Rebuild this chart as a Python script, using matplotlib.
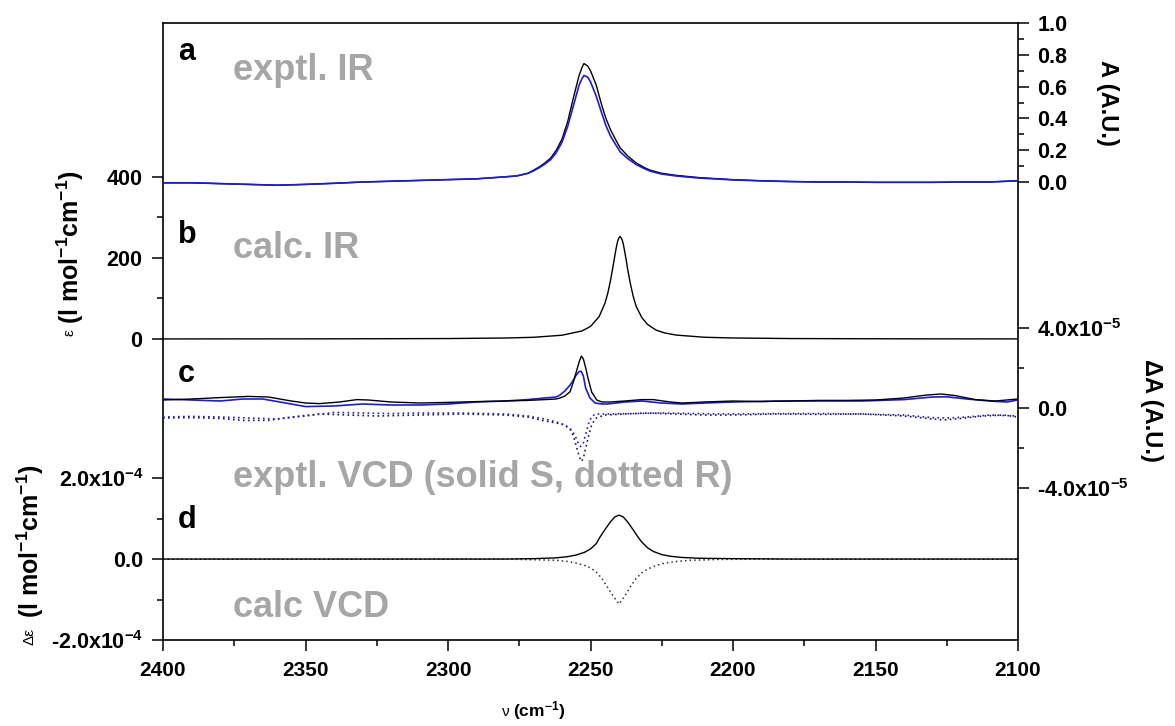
import matplotlib
matplotlib.use('Agg')
import matplotlib.pyplot as plt
import numpy as np

plt.rcParams['font.family'] = ['Liberation Sans', 'DejaVu Sans']
plt.rcParams['mathtext.fontset'] = 'custom'
plt.rcParams['mathtext.rm'] = 'Liberation Sans'
plt.rcParams['mathtext.bf'] = 'Liberation Sans:bold'
plt.rcParams['mathtext.default'] = 'bf'

# ---- data ----
# a: experimental IR, absorbance (A.U.), right upper axis
ir_exp_nu = [2400, 2390, 2380, 2370, 2360, 2350, 2340, 2330, 2320, 2310, 2300, 2290,
             2282, 2276, 2272, 2270, 2268, 2266, 2264, 2262, 2260, 2258, 2256, 2254,
             2253, 2252.3, 2251, 2250, 2248, 2246, 2244.6, 2243, 2241, 2239.6, 2237,
             2234, 2231, 2229, 2225, 2220, 2212, 2200, 2190, 2180, 2170, 2160, 2150,
             2140, 2130, 2120, 2110, 2100]
ir_exp_black = [-0.005, -0.005, -0.01, -0.015, -0.02, -0.015, -0.008, 0.0, 0.005, 0.01, 0.015, 0.02,
                0.03, 0.038, 0.055, 0.074, 0.095, 0.12, 0.15, 0.20, 0.27, 0.38, 0.53, 0.67,
                0.72, 0.745, 0.73, 0.70, 0.61, 0.48, 0.40, 0.33, 0.26, 0.215, 0.165,
                0.12, 0.09, 0.074, 0.055, 0.042, 0.028, 0.015, 0.008, 0.003, 0.0, 0.0, -0.002,
                -0.002, -0.002, 0.0, 0.0, 0.008]
ir_exp_blue = [-0.005, -0.005, -0.01, -0.015, -0.02, -0.015, -0.008, 0.0, 0.005, 0.01, 0.015, 0.02,
               0.03, 0.038, 0.054, 0.07, 0.09, 0.113, 0.14, 0.185, 0.25, 0.35, 0.48, 0.61,
               0.65, 0.67, 0.66, 0.63, 0.54, 0.43, 0.355, 0.29, 0.23, 0.19, 0.148,
               0.11, 0.083, 0.068, 0.05, 0.038, 0.025, 0.013, 0.007, 0.003, 0.0, 0.0, -0.002,
               -0.002, -0.002, 0.0, 0.0, 0.008]

# b: calculated IR, epsilon (l mol-1 cm-1), left upper axis
ir_calc_nu = [2400, 2340, 2300, 2280, 2270, 2260, 2253, 2250, 2247, 2245, 2244, 2243, 2242,
              2241.5, 2241, 2240.5, 2240, 2239.6, 2239, 2238.5, 2238, 2237.5, 2237, 2236,
              2235, 2234, 2232, 2230, 2227, 2224, 2220, 2210, 2200, 2180, 2140, 2100]
ir_calc_eps = [0.15, 0.4, 1.1, 2.4, 4.2, 9.3, 19.8, 31, 55, 87, 111, 144, 183,
               204, 224, 241, 250, 253, 247, 235, 216, 196, 174, 136,
               105, 81, 53, 36, 22, 15, 9.7, 4.3, 2.5, 1.1, 0.4, 0.2]

# c: experimental VCD, dA in units of 1e-5, right lower axis
vcd_s_black_nu = [2400, 2390, 2380, 2370, 2363, 2355, 2350, 2345, 2338, 2332, 2328, 2320, 2310,
                  2300, 2290, 2280, 2272, 2266, 2262, 2260.7, 2259, 2257.2, 2256, 2255, 2254,
                  2253.2, 2252.5, 2251.5, 2250.9, 2249.6, 2247.8, 2246, 2243, 2238, 2232,
                  2228, 2222, 2218, 2210, 2200, 2190, 2180, 2170, 2160, 2150, 2140, 2132,
                  2127, 2122, 2115, 2108, 2100]
vcd_s_black = [0.40, 0.45, 0.52, 0.58, 0.55, 0.35, 0.25, 0.22, 0.30, 0.42, 0.40, 0.30, 0.25,
               0.28, 0.32, 0.35, 0.38, 0.42, 0.45, 0.50, 0.60, 0.81, 1.3, 1.8, 2.3,
               2.6, 2.45, 1.9, 1.5, 0.8, 0.4, 0.3, 0.30, 0.35, 0.42,
               0.42, 0.30, 0.25, 0.30, 0.35, 0.32, 0.35, 0.38, 0.38, 0.40, 0.50, 0.65,
               0.70, 0.62, 0.42, 0.35, 0.45]
vcd_s_blue_nu = [2400, 2390, 2380, 2372, 2365, 2357, 2350, 2340, 2330, 2320, 2310, 2300, 2290,
                 2280, 2272, 2266, 2262, 2260.7, 2259, 2257.2, 2256, 2255, 2254, 2253.3,
                 2252.5, 2251.7, 2250.2, 2248.4, 2246, 2244, 2238, 2232, 2225, 2218, 2210,
                 2200, 2185, 2170, 2155, 2140, 2130, 2125, 2118, 2110, 2104, 2100]
vcd_s_blue = [0.45, 0.40, 0.35, 0.45, 0.45, 0.25, 0.07, 0.10, 0.20, 0.15, 0.15, 0.20, 0.30,
              0.35, 0.42, 0.50, 0.55, 0.65, 0.85, 1.14, 1.4, 1.65, 1.82, 1.84,
              1.6, 1.0, 0.5, 0.25, 0.2, 0.2, 0.30, 0.35, 0.25, 0.20, 0.25,
              0.30, 0.35, 0.35, 0.35, 0.42, 0.55, 0.56, 0.45, 0.35, 0.30, 0.40]
vcd_r_black_nu = [2400, 2390, 2380, 2372, 2363, 2355, 2345, 2335, 2325, 2310, 2295, 2280, 2272,
                  2266, 2262, 2259, 2257, 2256, 2255, 2254, 2253.2, 2252.5, 2251.5, 2250.5,
                  2249.5, 2248, 2245, 2238, 2230, 2220, 2210, 2200, 2185, 2170, 2155, 2140,
                  2130, 2126, 2120, 2112, 2105, 2100]
vcd_r_black = [-0.50, -0.48, -0.52, -0.62, -0.62, -0.45, -0.30, -0.35, -0.40, -0.35, -0.30, -0.35, -0.45,
               -0.65, -0.75, -0.85, -1.1, -1.4, -1.9, -2.4, -2.67, -2.5, -1.9, -1.3,
               -0.8, -0.5, -0.35, -0.30, -0.25, -0.30, -0.35, -0.35, -0.30, -0.32, -0.30, -0.40,
               -0.55, -0.60, -0.52, -0.40, -0.35, -0.45]
vcd_r_blue_nu = [2400, 2390, 2380, 2370, 2360, 2350, 2340, 2330, 2320, 2310, 2295, 2280, 2272,
                 2266, 2262, 2259, 2257, 2255.5, 2254.5, 2253.5, 2252.5, 2251.5, 2250.5, 2249.5,
                 2248, 2244, 2235, 2225, 2212, 2200, 2185, 2170, 2155, 2140, 2130, 2125, 2118,
                 2110, 2100]
vcd_r_blue = [-0.45, -0.42, -0.45, -0.50, -0.55, -0.40, -0.22, -0.25, -0.28, -0.25, -0.25, -0.30, -0.40,
              -0.55, -0.70, -0.85, -1.05, -1.35, -1.7, -1.93, -1.75, -1.2, -0.7, -0.4,
              -0.3, -0.30, -0.28, -0.25, -0.28, -0.30, -0.28, -0.28, -0.30, -0.35, -0.48, -0.50, -0.45,
              -0.35, -0.40]

# d: calculated VCD, d-epsilon in units of 1e-4, left lower axis
vcd_calc_s_nu = [2400, 2280, 2270, 2262, 2258, 2255, 2252, 2250, 2248, 2246.7, 2245, 2243, 2241.5,
                 2240, 2238.5, 2237, 2235, 2233.3, 2232, 2230, 2228, 2225, 2222, 2218, 2212,
                 2200, 2180, 2100]
vcd_calc_s = [0.0, 0.0, 0.01, 0.03, 0.06, 0.10, 0.17, 0.25, 0.38, 0.54, 0.72, 0.92, 1.04,
              1.086, 1.04, 0.92, 0.72, 0.54, 0.42, 0.28, 0.19, 0.11, 0.07, 0.04, 0.02,
              0.01, 0.0, 0.0]
vcd_calc_r_nu = [2400, 2280, 2262, 2258, 2255, 2252, 2250, 2248, 2246, 2244, 2242, 2240, 2238,
                 2236, 2234, 2232, 2230, 2227, 2224, 2220, 2215, 2205, 2190, 2100]
vcd_calc_r = [0.0, 0.0, -0.03, -0.06, -0.10, -0.16, -0.22, -0.32, -0.48, -0.70, -0.92, -1.11, -0.92,
              -0.68, -0.48, -0.34, -0.25, -0.16, -0.10, -0.06, -0.03, -0.01, 0.0, 0.0]

BLUE = '#1c1cd8'
GRAY = '#a6a6a6'
YSIZE = 15.5

W, H = 1175, 726
fig = plt.figure(figsize=(W / 100, H / 100), dpi=100)
rect = [163 / W, 1 - 640 / H, 855 / W, 617 / H]


def prep(ax, side):
    ax.set_xlim(2400, 2100)
    ax.patch.set_visible(False)
    for s in ['top', 'bottom', 'left', 'right']:
        ax.spines[s].set_visible(False)
    ax.tick_params(axis='x', which='both', bottom=False, top=False, labelbottom=False)
    ax.yaxis.set_ticks_position(side)
    ax.yaxis.set_label_position(side)
    ax.tick_params(axis='y', which='major', length=8, width=1.1, direction='out',
                   pad=6, labelsize=YSIZE)
    ax.tick_params(axis='y', which='minor', length=4.5, width=1.1, direction='out')


# main frame / epsilon axis
ax = fig.add_axes(rect)
ax.set_xlim(2400, 2100)
ax.set_ylim(-743.2, 780.2)
for s in ['top', 'bottom', 'left', 'right']:
    ax.spines[s].set_linewidth(1.2)
ax.set_xticks([2400, 2350, 2300, 2250, 2200, 2150, 2100])
ax.set_xticks(np.arange(2375, 2100, -50), minor=True)
ax.set_yticks([0, 200, 400])
ax.set_yticks([100, 300], minor=True)
ax.tick_params(axis='both', which='major', length=8, width=1.1, direction='out',
               pad=7, labelsize=YSIZE)
ax.tick_params(axis='x', labelsize=15)
ax.tick_params(axis='both', which='minor', length=4.5, width=1.1, direction='out')
ax.tick_params(axis='y', which='both', right=False)
ax.tick_params(axis='x', which='both', top=False)
for lab in ax.get_xticklabels() + ax.get_yticklabels():
    lab.set_fontweight('bold')
ax.plot(ir_calc_nu, ir_calc_eps, color='black', lw=1.0)

# delta-epsilon axis (left, lower)
ax2 = fig.add_axes(rect)
prep(ax2, 'left')
ax2.set_ylim(-2.0e-4, 1.3247e-3)
ax2.set_yticks([-2e-4, 0, 2e-4])
ax2.set_yticklabels([r'-2.0x$10^{-4}$', '0.0', r'2.0x$10^{-4}$'], fontweight='bold')
ax2.set_yticks([-1e-4, 1e-4], minor=True)
ax2.plot(vcd_calc_r_nu, np.array(vcd_calc_r) * 1e-4, color='#333333', lw=1.1, ls=(0, (1, 2)))
ax2.plot(vcd_calc_s_nu, np.array(vcd_calc_s) * 1e-4, color='black', lw=1.0)

# A axis (right, upper)
ax3 = fig.add_axes(rect)
prep(ax3, 'right')
ax3.set_ylim(-2.88, 1.0)
ax3.set_yticks([0, 0.2, 0.4, 0.6, 0.8, 1.0])
ax3.set_yticklabels(['0.0', '0.2', '0.4', '0.6', '0.8', '1.0'], fontweight='bold')
ax3.set_yticks([0.1, 0.3, 0.5, 0.7, 0.9], minor=True)
ax3.plot(ir_exp_nu, ir_exp_black, color='black', lw=1.0)
ax3.plot(ir_exp_nu, ir_exp_blue, color=BLUE, lw=1.2)

# delta-A axis (right, lower)
ax4 = fig.add_axes(rect)
prep(ax4, 'right')
ax4.set_ylim(-1.16e-4, 1.925e-4)
ax4.set_yticks([-4e-5, 0, 4e-5])
ax4.set_yticklabels([r'-4.0x$10^{-5}$', '0.0', r'4.0x$10^{-5}$'], fontweight='bold')
ax4.set_yticks([-2e-5, 2e-5], minor=True)
ax4.plot(vcd_r_black_nu, np.array(vcd_r_black) * 1e-5, color='#1a1a50', lw=1.2, ls=(0, (1, 2)))
ax4.plot(vcd_r_blue_nu, np.array(vcd_r_blue) * 1e-5, color=BLUE, lw=1.2, ls=(0, (1, 2)))
ax4.plot(vcd_s_blue_nu, np.array(vcd_s_blue) * 1e-5, color=BLUE, lw=1.2)
ax4.plot(vcd_s_black_nu, np.array(vcd_s_black) * 1e-5, color='black', lw=1.0)


def ftext(x, y, s, **kw):
    return fig.text(x / W, 1 - y / H, s, **kw)


# panel letters
for letter, yb in [('a', 60), ('b', 243), ('c', 382), ('d', 528)]:
    ftext(178, yb, letter, fontsize=22, fontweight='bold', va='baseline', ha='left')

# gray annotations
ftext(233, 80, 'exptl. IR', fontsize=26, fontweight='bold', color=GRAY, va='baseline')
ftext(233, 258, 'calc. IR', fontsize=26, fontweight='bold', color=GRAY, va='baseline')
ftext(233, 487, 'exptl. VCD (solid S, dotted R)', fontsize=26, fontweight='bold',
      color=GRAY, va='baseline')
ftext(233, 617, 'calc VCD', fontsize=26, fontweight='bold', color=GRAY, va='baseline')

# axis labels
ftext(70, 336, 'ε', fontsize=11, rotation=90, ha='center', va='bottom')
ftext(70, 324, r'(l mol$^{-1}$cm$^{-1}$)', fontsize=18, fontweight='bold',
      rotation=90, ha='center', va='bottom')
ftext(30, 645, 'Δε', fontsize=11, rotation=90, ha='center', va='bottom')
ftext(30, 618, r'(l mol$^{-1}$cm$^{-1}$)', fontsize=18, fontweight='bold',
      rotation=90, ha='center', va='bottom')
ftext(1107, 103, 'A (A.U.)', fontsize=17, fontweight='bold', rotation=-90,
      ha='center', va='center')
ftext(1152, 410, 'ΔA (A.U.)', fontsize=17, fontweight='bold', rotation=-90,
      ha='center', va='center')
ftext(510, 716, 'ν', fontsize=11, ha='right', va='baseline')
ftext(513, 716, r'(cm$^{-1}$)', fontsize=12.5, fontweight='bold', ha='left', va='baseline')

fig.savefig('out.png', dpi=100)
